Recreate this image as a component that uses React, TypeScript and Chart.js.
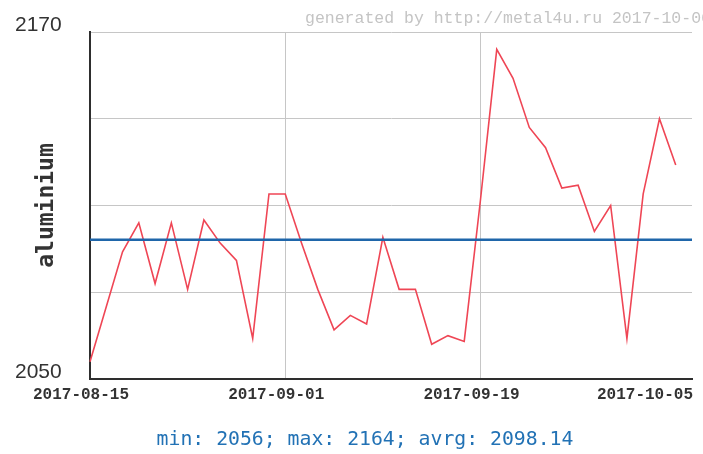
import React, { useEffect, useRef } from "react";
import { Chart, registerables } from "chart.js";

Chart.register(...registerables);

// Trading days (LME, 28 Aug 2017 was a UK bank holiday)
const dates = [
  "2017-08-15", "2017-08-16", "2017-08-17", "2017-08-18",
  "2017-08-21", "2017-08-22", "2017-08-23", "2017-08-24", "2017-08-25",
  "2017-08-29", "2017-08-30", "2017-08-31", "2017-09-01",
  "2017-09-04", "2017-09-05", "2017-09-06", "2017-09-07", "2017-09-08",
  "2017-09-11", "2017-09-12", "2017-09-13", "2017-09-14", "2017-09-15",
  "2017-09-18", "2017-09-19", "2017-09-20", "2017-09-21", "2017-09-22",
  "2017-09-25", "2017-09-26", "2017-09-27", "2017-09-28", "2017-09-29",
  "2017-10-02", "2017-10-03", "2017-10-04", "2017-10-05", "2017-10-06",
];

// aluminium price (null = no value that day)
const aluminium: (number | null)[] = [
  2056, null, 2094, 2104,
  2083, 2104, 2081, 2105, 2097,
  2091, 2064, 2114, 2114,
  2097, 2081, 2067, 2072, 2069,
  2099, 2081, 2081, 2062, 2065,
  2063, 2112, 2164, 2154, 2137,
  2130, 2116, 2117, 2101, 2110,
  2064, 2114, 2140, 2124, null,
];

const xTickDates = ["2017-08-15", "2017-09-01", "2017-09-19", "2017-10-05"];
const xGridDates = ["2017-09-01", "2017-09-19"];
const yShownTicks = [2050, 2170];
const Y_MIN = 2050;
const Y_MAX = 2170;
const Y_STEP = 30;

const STAT_MIN = 2056;
const STAT_MAX = 2164;
const STAT_AVRG = 2098.14;
const SERIES_NAME = "aluminium";
const WATERMARK = "generated by http://metal4u.ru 2017-10-06";

const statsText = `min: ${STAT_MIN}; max: ${STAT_MAX}; avrg: ${STAT_AVRG.toFixed(2)}`;

const decorPlugin = {
  id: "decor",
  afterDatasetsDraw(chart: any) {
    const { ctx, chartArea, scales } = chart;
    const y = scales.y.getPixelForValue(STAT_AVRG);
    ctx.save();
    ctx.strokeStyle = "#1f66aa";
    ctx.lineWidth = 2.5;
    ctx.beginPath();
    ctx.moveTo(chartArea.left, y);
    ctx.lineTo(chartArea.right, y);
    ctx.stroke();
    ctx.restore();
  },
  afterDraw(chart: any) {
    const { ctx, scales, chartArea } = chart;
    ctx.save();
    ctx.font = '16.5px "Liberation Mono", monospace';
    ctx.fillStyle = "#c4c4c4";
    ctx.textBaseline = "middle";
    ctx.textAlign = "left";
    ctx.fillText(WATERMARK, 305, 19);

    ctx.font = 'bold 16px "Liberation Mono", monospace';
    ctx.fillStyle = "#333333";
    ctx.textAlign = "center";
    const maxRight = chart.width - 10;
    xTickDates.forEach((d) => {
      const i = dates.indexOf(d);
      let x = scales.x.getPixelForValue(i) - 9;
      const w = ctx.measureText(d).width;
      if (x + w / 2 > maxRight) x = maxRight - w / 2;
      ctx.fillText(d, x, chartArea.bottom + 16);
    });
    ctx.restore();
  },
};

export default function App() {
  const ref = useRef<HTMLCanvasElement | null>(null);

  useEffect(() => {
    if (!ref.current) return;
    const chart = new Chart(ref.current, {
      type: "line",
      data: {
        labels: dates,
        datasets: [
          {
            label: SERIES_NAME,
            data: aluminium,
            borderColor: "#ef4655",
            borderWidth: 1.6,
            pointRadius: 0,
            tension: 0,
            spanGaps: true,
            fill: false,
          },
        ],
      },
      options: {
        animation: false,
        responsive: false,
        devicePixelRatio: 1,
        layout: { padding: { top: 32, left: 38, right: 11, bottom: 0 } },
        plugins: {
          legend: { display: false },
          tooltip: { enabled: false },
          title: {
            display: true,
            position: "bottom",
            text: statsText,
            color: "#2272b5",
            font: {
              family: '"DejaVu Sans Mono", monospace',
              size: 19.8,
              weight: "normal",
              lineHeight: "24px",
            },
            padding: { top: 2, bottom: 2 },
          },
        },
        scales: {
          x: {
            type: "category",
            offset: false,
            grid: {
              drawTicks: false,
              lineWidth: 1,
              color: (c: any) =>
                xGridDates.includes(dates[c.index]) ? "#c6c6c6" : "rgba(0,0,0,0)",
            },
            border: { display: true, color: "#2e2e2e", width: 2 },
            ticks: { display: false, autoSkip: false },
            afterFit: (s: any) => {
              s.height = 47;
              s.paddingLeft = 0;
              s.paddingRight = 0;
            },
          },
          y: {
            min: Y_MIN,
            max: Y_MAX,
            ticks: {
              stepSize: Y_STEP,
              mirror: true,
              crossAlign: "far",
              padding: -75,
              color: "#333333",
              labelOffset: -7,
              font: { family: '"Liberation Sans", Arial, sans-serif', size: 21 },
              callback: (v: any) => (yShownTicks.includes(Number(v)) ? String(v) : ""),
            },
            grid: { drawTicks: false, color: "#c6c6c6", lineWidth: 1 },
            border: { display: true, color: "#2e2e2e", width: 2 },
            title: {
              display: true,
              text: SERIES_NAME,
              color: "#333333",
              font: {
                family: '"DejaVu Sans Mono", monospace',
                size: 23,
                weight: "bold",
                lineHeight: "18px",
              },
              padding: { top: 0, bottom: 0 },
            },
            afterFit: (s: any) => {
              s.width = 52;
              s.paddingTop = 0;
              s.paddingBottom = 0;
            },
          },
        },
      },
      plugins: [decorPlugin],
    });
    return () => chart.destroy();
  }, []);

  return (
    <div
      style={{
        position: "fixed",
        left: 0,
        top: 0,
        width: 703,
        height: 454,
        background: "#ffffff",
        overflow: "hidden",
      }}
    >
      <canvas ref={ref} width={703} height={454} style={{ display: "block" }} />
    </div>
  );
}
